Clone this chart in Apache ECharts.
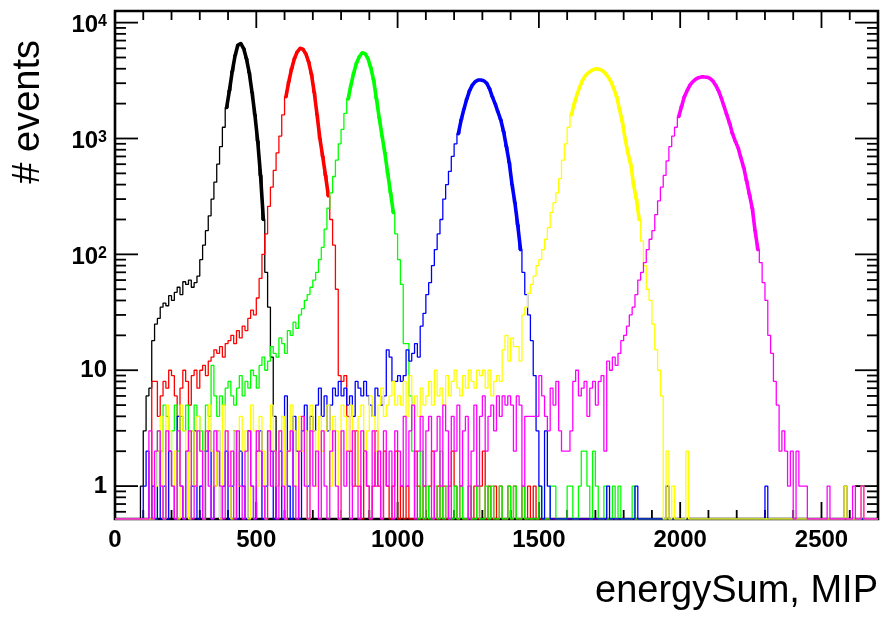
<!DOCTYPE html>
<html>
<head>
<meta charset="utf-8">
<script src="https://cdn.jsdelivr.net/npm/echarts@6/dist/echarts.min.js"></script>
<style>
  html, body { margin: 0; padding: 0; background: #ffffff; }
  #chart { width: 887px; height: 620px; }
</style>
</head>
<body>
<div id="chart"></div>
<script>
// Binning of the energySum histograms (MIP)
const BIN_WIDTH = 10;
const N_BINS = 270;
const X_MIN = 0, X_MAX = 2700;
const Y_MIN = 0.52, Y_MAX = 12600;

// Axis ticks and labels
const xMajorTicks = [0, 500, 1000, 1500, 2000, 2500];
const xTickLabels = ['0', '500', '1000', '1500', '2000', '2500'];
const xMinorTicks = [100, 200, 300, 400, 600, 700, 800, 900, 1100, 1200, 1300, 1400,
  1600, 1700, 1800, 1900, 2100, 2200, 2300, 2400, 2600];
const yMajorTicks = [1, 10, 100, 1000, 10000];
const yTickLabels = ['1', '10', '10^2', '10^3', '10^4'];
const yMinorTicks = [0.6, 0.7, 0.8, 0.9, 2, 3, 4, 5, 6, 7, 8, 9,
  20, 30, 40, 50, 60, 70, 80, 90, 200, 300, 400, 500, 600, 700, 800, 900,
  2000, 3000, 4000, 5000, 6000, 7000, 8000, 9000];

// Counts per bin; each array starts at the given energy (low edge of its first bin)
const blackFrom = 90;
const blackCounts = [
  1, 3, 6, 7, 18, 25, 28, 35, 38, 36,
  44, 40, 47, 52, 45, 58, 55, 60, 52, 57,
  65, 90, 120, 160, 215, 300, 420, 600, 850, 1250,
  1850, 2600, 3800, 5200, 6400, 6600, 6000, 4900, 3700, 2500,
  1600, 950, 480, 200, 70, 35, 13, 4];

const redFrom = 130;
const redCounts = [
  8, 8, 4, 6, 8, 7, 10, 9, 6, 4,
  7, 10, 8, 5, 9, 10, 7, 10, 11, 9,
  12, 13, 15, 14, 16, 13, 17, 18, 20, 17,
  22, 19, 24, 22, 28, 33, 30, 42, 62, 100,
  150, 260, 380, 530, 750, 1050, 1600, 2300, 3100, 4000,
  4900, 5600, 6000, 5900, 5400, 4600, 3600, 2500, 1600, 1000,
  700, 480, 320, 200, 120, 50, 9, 8, 9, 4,
  2, 1, 3, 1, 0, 2, 1, 0, 1, 3,
  1, 0, 2, 1, 0, 1, 2, 0, 1, 0,
  1, 0, 0, 2, 1, 0, 1, 0, 1, 2,
  0, 1, 0, 1, 0, 1, 2, 1, 0, 1,
  0, 0, 1, 0, 1, 0, 1, 2, 0, 1,
  0, 1, 0, 1, 0, 0, 1, 0, 1, 0,
  0, 1, 0, 1, 0, 1];

const greenFrom = 150;
const greenCounts = [
  3, 2, 5, 4, 2, 3, 5, 2, 4, 3,
  5, 2, 3, 5, 4, 3, 2, 5, 4, 11,
  6, 4, 6, 5, 7, 8, 6, 5, 7, 9,
  6, 8, 7, 10, 9, 7, 11, 13, 10, 12,
  16, 14, 13, 19, 17, 14, 22, 20, 26, 23,
  30, 34, 40, 45, 52, 60, 70, 90, 115, 165,
  250, 340, 470, 650, 900, 1200, 1650, 2200, 2900, 3700,
  4500, 5100, 5500, 5400, 4900, 4100, 3200, 2200, 1500, 1050,
  750, 500, 340, 230, 150, 90, 55, 17, 17, 6,
  2, 1, 0, 2, 0, 1, 0, 0, 1, 0,
  2, 0, 1, 0, 0, 1, 0, 1, 0, 0,
  1, 0, 0, 1, 0, 0, 1, 0, 1, 0,
  0, 1, 0, 0, 1, 0, 1, 0, 0, 1,
  0, 0, 0, 0, 0, 1, 0, 0, 0, 1,
  1, 0, 0, 0, 0, 1, 1, 0, 0, 1,
  2, 2, 1, 0, 2, 1, 0, 0, 1, 0,
  0, 1, 0, 1, 0, 0, 0, 0, 1];

const blueFrom = 100;
const blueCounts = [
  1, 2, 0, 1, 0, 2, 0, 1, 0, 2,
  1, 0, 4, 1, 0, 2, 0, 1, 3, 0,
  1, 0, 2, 3, 0, 1, 3, 0, 1, 2,
  0, 1, 3, 0, 2, 1, 0, 3, 1, 0,
  2, 3, 0, 1, 3, 2, 0, 1, 2, 0,
  6, 1, 0, 4, 2, 0, 3, 5, 1, 4,
  3, 5, 7, 4, 6, 3, 5, 7, 6, 8,
  6, 7, 5, 6, 4, 8, 7, 6, 8, 6,
  5, 4, 7, 6, 5, 6, 15, 13, 8, 8,
  9, 8, 9, 15, 12, 14, 17, 13, 24, 31,
  45, 57, 80, 110, 150, 200, 300, 400, 520, 700,
  900, 1100, 1450, 1800, 2200, 2600, 2900, 3100, 3200, 3200,
  3150, 3000, 2700, 2300, 2000, 1700, 1450, 1150, 850, 620,
  400, 280, 180, 110, 70, 45, 30, 18, 9, 3,
  1, 0, 3, 1];
const blueStray = [[1740, 1], [1840, 1], [1950, 1], [2300, 1], [2580, 1]];

const yellowFrom = 140;
const yellowCounts = [
  1, 2, 4, 0, 5, 3, 1, 2, 0, 5,
  3, 2, 0, 3, 1, 4, 2, 0, 3, 5,
  2, 1, 3, 0, 5, 3, 2, 0, 3, 1,
  4, 2, 3, 0, 5, 3, 1, 4, 2, 0,
  3, 5, 2, 1, 3, 4, 0, 2, 5, 3,
  1, 4, 2, 3, 0, 5, 3, 1, 4, 2,
  3, 5, 1, 4, 3, 0, 5, 4, 2, 5,
  3, 1, 4, 5, 2, 3, 6, 4, 2, 5,
  7, 4, 5, 6, 8, 5, 6, 5, 8, 4,
  9, 5, 6, 4, 7, 5, 6, 8, 5, 10,
  6, 7, 5, 9, 6, 8, 10, 7, 6, 9,
  7, 10, 8, 7, 10, 9, 10, 7, 10, 6,
  8, 9, 8, 15, 20, 12, 19, 16, 16, 12,
  30, 35, 46, 55, 65, 80, 90, 110, 135, 170,
  230, 280, 340, 450, 650, 900, 1250, 1600, 2000, 2400,
  2800, 3200, 3500, 3700, 3850, 3950, 4000, 3950, 3850, 3650,
  3400, 3100, 2700, 2300, 1800, 1400, 1000, 750, 600, 400,
  300, 200, 130, 80, 50, 40, 25, 15, 10, 6,
  0, 2, 0, 1, 0, 0, 0, 0, 2];
const yellowStray = [[2580, 1], [2640, 1]];

const magentaFrom = 120;
const magentaCounts = [
  3, 0, 2, 3, 1, 0, 3, 2, 1, 0,
  3, 1, 0, 2, 3, 0, 1, 3, 2, 0,
  3, 1, 0, 3, 2, 1, 0, 3, 1, 2,
  0, 3, 1, 0, 2, 3, 1, 0, 3, 2,
  1, 0, 3, 1, 2, 0, 3, 1, 0, 2,
  3, 1, 0, 2, 4, 1, 0, 3, 1, 2,
  0, 3, 1, 0, 2, 3, 1, 0, 3, 1,
  2, 0, 3, 1, 0, 3, 2, 1, 0, 3,
  1, 2, 0, 3, 1, 2, 0, 3, 2, 1,
  4, 1, 3, 5, 0, 2, 4, 1, 3, 4,
  0, 2, 4, 1, 5, 3, 0, 4, 2, 5,
  1, 3, 4, 0, 2, 5, 1, 4, 6, 2,
  4, 5, 3, 6, 4, 6, 5, 6, 5, 2,
  6, 5, 1, 4, 4, 4, 4, 4, 9, 6,
  4, 3, 7, 5, 8, 3, 2, 2, 2, 3,
  8, 10, 6, 7, 8, 4, 7, 8, 5, 8,
  9, 2, 12, 10, 13, 11, 14, 18, 20, 24,
  30, 35, 45, 60, 70, 85, 110, 135, 160, 220,
  290, 380, 480, 640, 850, 1050, 1250, 1550, 1900, 2300,
  2600, 2900, 3100, 3250, 3350, 3400, 3400, 3380, 3300, 3150,
  2900, 2600, 2250, 1900, 1600, 1350, 1100, 950, 830, 680,
  560, 430, 330, 250, 160, 110, 85, 57, 40, 20,
  14, 8, 5, 2, 3, 2, 1, 2, 0, 2,
  1, 1, 1];
const magentaStray = [[2520, 1], [2610, 1], [2640, 1]];

// Drawing order and styles; fitRange marks the energy span covered by the peak fit
const histograms = [
  { name: 'black',   color: '#000000', from: blackFrom,   counts: blackCounts,   stray: [],           fitRange: [390, 520] },
  { name: 'red',     color: '#ff0000', from: redFrom,     counts: redCounts,     stray: [],           fitRange: [600, 750] },
  { name: 'green',   color: '#00ff00', from: greenFrom,   counts: greenCounts,   stray: [],           fitRange: [820, 980] },
  { name: 'blue',    color: '#0000ff', from: blueFrom,    counts: blueCounts,    stray: blueStray,    fitRange: [1210, 1430] },
  { name: 'yellow',  color: '#ffff00', from: yellowFrom,  counts: yellowCounts,  stray: yellowStray,  fitRange: [1610, 1850] },
  { name: 'magenta', color: '#ff00ff', from: magentaFrom, counts: magentaCounts, stray: magentaStray, fitRange: [1990, 2270] }
];

const FONT = '"Liberation Sans", Arial, Helvetica, sans-serif';

function binCount(h, i) {
  const k = i - Math.round(h.from / BIN_WIDTH);
  if (k >= 0 && k < h.counts.length) return h.counts[k];
  for (const s of h.stray) {
    if (Math.round(s[0] / BIN_WIDTH) === i) return s[1];
  }
  return 0;
}

// Step outline over the full range; empty bins sit on the bottom of the frame
function stepData(h) {
  const pts = [];
  for (let i = 0; i < N_BINS; i++) {
    const c = binCount(h, i);
    pts.push([i * BIN_WIDTH, c > 0 ? c : Y_MIN]);
  }
  pts.push([N_BINS * BIN_WIDTH, pts[pts.length - 1][1]]);
  return pts;
}

// Peak region traced through the bin centres
function fitData(h) {
  const pts = [];
  const a = Math.round(h.fitRange[0] / BIN_WIDTH), b = Math.round(h.fitRange[1] / BIN_WIDTH);
  for (let i = a; i <= b; i++) pts.push([(i + 0.5) * BIN_WIDTH, binCount(h, i)]);
  return pts;
}

const series = [];
histograms.forEach(h => {
  series.push({
    name: h.name, type: 'line', step: 'end', data: stepData(h),
    symbol: 'none', showSymbol: false, clip: true, animation: false, z: 3,
    lineStyle: { color: h.color, width: 1.3 }
  });
  series.push({
    name: h.name + ' fit', type: 'line', data: fitData(h),
    symbol: 'none', showSymbol: false, clip: true, animation: false, z: 3,
    lineStyle: { color: h.color, width: 3.6, cap: 'round', join: 'round' }
  });
});

// Tick marks on all four sides of the frame (drawn inward)
const tickData = [];
xMajorTicks.forEach(v => tickData.push([v, Y_MIN, 0, 1]));
xMinorTicks.forEach(v => tickData.push([v, Y_MIN, 0, 0]));
yMajorTicks.forEach(v => tickData.push([X_MIN, v, 1, 1]));
yMinorTicks.forEach(v => tickData.push([X_MIN, v, 1, 0]));

const X_MAJOR_LEN = 17, X_MINOR_LEN = 9, Y_MAJOR_LEN = 23, Y_MINOR_LEN = 11;
function seg(x1, y1, x2, y2) {
  return { type: 'line', shape: { x1, y1, x2, y2 }, style: { stroke: '#000', lineWidth: 1.8 } };
}
series.push({
  type: 'custom', name: 'ticks', data: tickData, encode: { x: 0, y: 1 },
  silent: true, animation: false, z: 1, clip: false,
  renderItem: function (params, api) {
    const cs = params.coordSys;
    const kind = api.value(2), major = api.value(3);
    if (kind === 1) {
      const py = api.coord([X_MIN, api.value(1)])[1];
      const len = major ? Y_MAJOR_LEN : Y_MINOR_LEN;
      return { type: 'group', children: [
        seg(cs.x, py, cs.x + len, py),
        seg(cs.x + cs.width, py, cs.x + cs.width - len, py)
      ] };
    }
    const px = api.coord([api.value(0), Y_MIN])[0];
    const len = major ? X_MAJOR_LEN : X_MINOR_LEN;
    return { type: 'group', children: [
      seg(px, cs.y + cs.height, px, cs.y + cs.height - len),
      seg(px, cs.y, px, cs.y + len)
    ] };
  }
});

function yLabel(v) {
  const idx = yMajorTicks.findIndex(t => Math.abs(Math.log10(v) - Math.log10(t)) < 1e-6);
  if (idx < 0) return '';
  const s = yTickLabels[idx];
  const p = s.indexOf('^');
  if (p < 0) return '{n|' + s + '}';
  return '{b|' + s.slice(0, p) + '}{s|' + s.slice(p + 1) + '}';
}
function xLabel(v) {
  const idx = xMajorTicks.indexOf(v);
  return idx < 0 ? '' : xTickLabels[idx];
}

const chart = echarts.init(document.getElementById('chart'), null, { renderer: 'canvas' });
chart.setOption({
  animation: false,
  backgroundColor: '#ffffff',
  grid: {
    left: 115, top: 11, width: 763, height: 508,
    show: true, borderColor: '#000000', borderWidth: 2.6, backgroundColor: 'transparent'
  },
  xAxis: {
    type: 'value', min: X_MIN, max: X_MAX, interval: 500,
    axisLine: { show: false }, axisTick: { show: false }, splitLine: { show: false },
    axisLabel: {
      formatter: xLabel, showMaxLabel: false, margin: 9,
      color: '#000', fontFamily: FONT, fontWeight: 'bold', fontSize: 24
    }
  },
  yAxis: {
    type: 'log', logBase: 10, min: Y_MIN, max: Y_MAX,
    axisLine: { show: false }, axisTick: { show: false }, splitLine: { show: false },
    axisLabel: {
      formatter: yLabel, margin: 8, color: '#000',
      rich: {
        n: { fontFamily: FONT, fontWeight: 'bold', fontSize: 24, color: '#000' },
        b: { fontFamily: FONT, fontWeight: 'bold', fontSize: 24, lineHeight: 24, padding: [6, 0, 0, 0], color: '#000' },
        s: { fontFamily: FONT, fontWeight: 'bold', fontSize: 16, lineHeight: 16, padding: [3, 0, 0, 0], verticalAlign: 'top', color: '#000' }
      }
    }
  },
  graphic: [
    {
      type: 'text', x: 878, y: 592, silent: true,
      style: { text: 'energySum, MIP', fill: '#000', font: '38px ' + FONT, align: 'right', verticalAlign: 'middle' }
    },
    {
      type: 'text', x: 29, y: 40, rotation: Math.PI / 2, silent: true,
      style: { text: '# events', fill: '#000', font: '38px ' + FONT, align: 'right', verticalAlign: 'middle' }
    }
  ],
  series: series
});
</script>
</body>
</html>
